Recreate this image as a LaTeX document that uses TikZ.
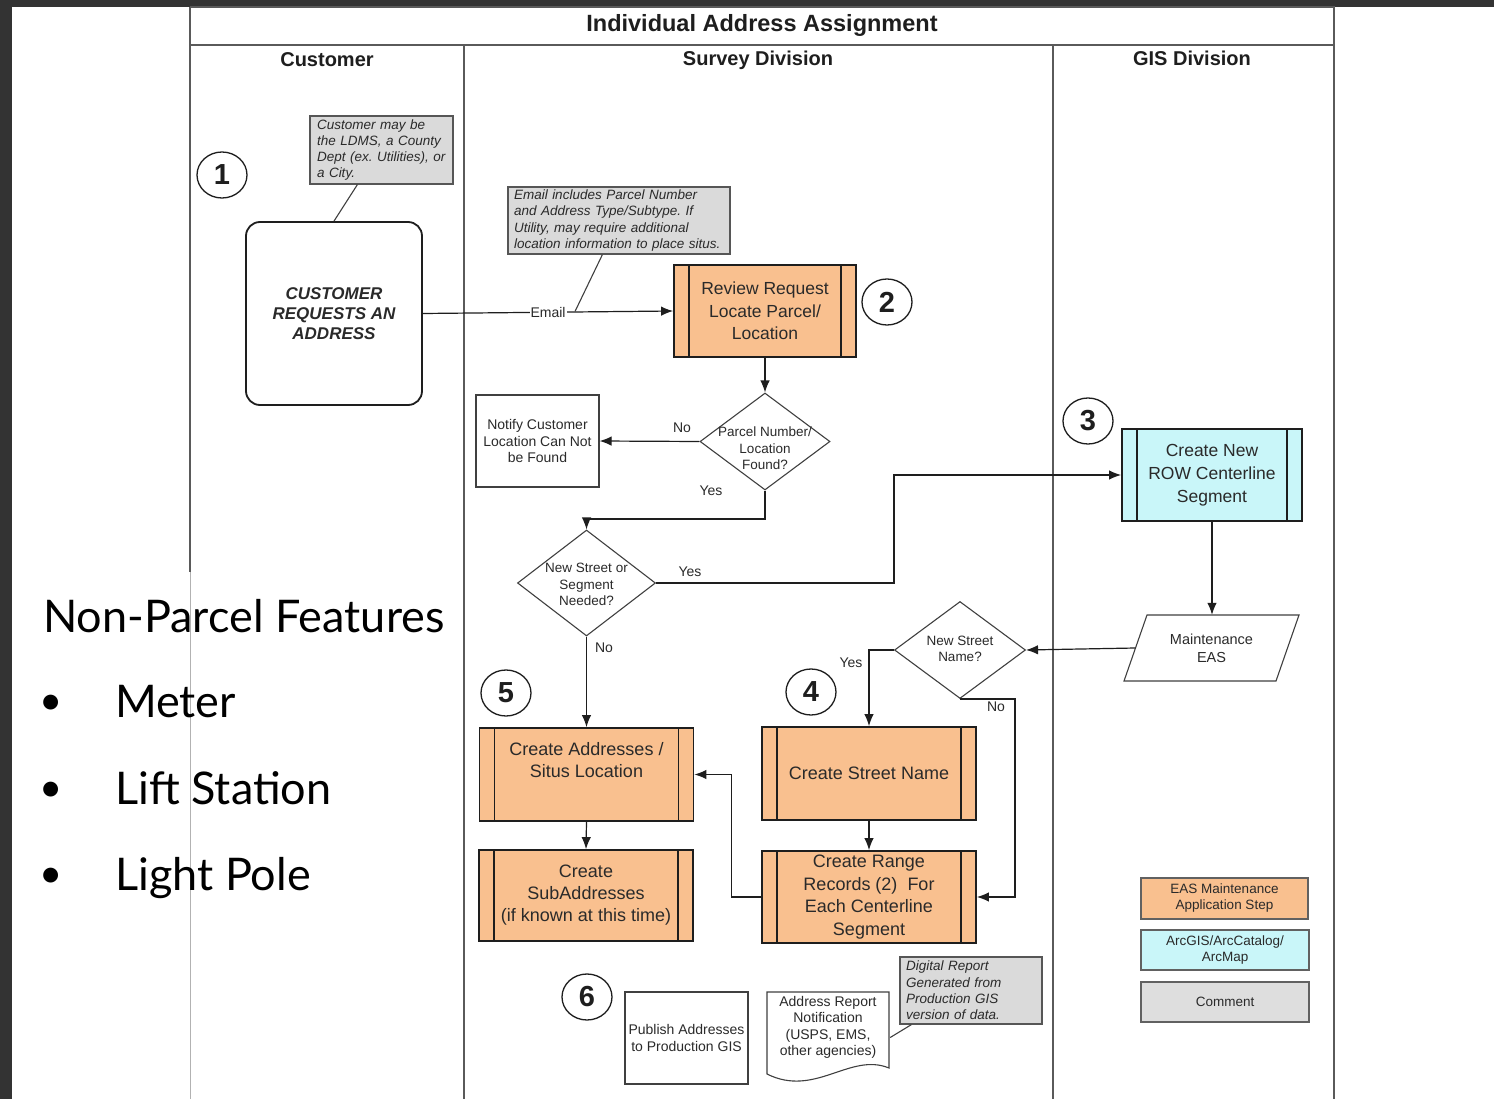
\documentclass[tikz,border=0pt]{standalone}
\usepackage{fontspec}
\setmainfont{Liberation Sans}
\newfontfamily\slidefont{Lato}
\usetikzlibrary{shapes.geometric,arrows.meta,calc}
\frenchspacing
\definecolor{bgdark}{HTML}{333333}
\definecolor{procorange}{HTML}{F9C08F}
\definecolor{gisblue}{HTML}{C9F6F9}
\definecolor{cmtgray}{HTML}{DADADA}
\definecolor{lanegray}{HTML}{5A5A5A}
\definecolor{inkc}{HTML}{1E1E1E}
\definecolor{txtc}{HTML}{2A2A2A}
\newcommand{\fsz}[2]{\fontsize{#1}{#2}\selectfont}
\tikzset{
  lane/.style={draw=lanegray, line width=1.3pt},
  lanefaint/.style={draw=black!30, line width=1pt},
  ttl/.style={font=\bfseries\fsz{23.5}{26}, text=inkc, inner sep=0pt},
  lanetitle/.style={font=\bfseries\fsz{20}{24}, text=inkc, inner sep=0pt},
  procbox/.style={rectangle, draw=inkc, line width=1.8pt, inner sep=0pt, align=center,
    font=\fsz{17.5}{22.5}, text=txtc,
    path picture={\draw[inkc, line width=1.5pt]
      ($(path picture bounding box.north west)+(15,0)$) -- ($(path picture bounding box.south west)+(15,0)$)
      ($(path picture bounding box.north east)+(-15,0)$) -- ($(path picture bounding box.south east)+(-15,0)$);}},
  custbox/.style={rectangle, rounded corners=14pt, draw=inkc, line width=1.8pt, inner sep=0pt,
    align=center, font=\bfseries\itshape\fsz{17}{20}, text=txtc},
  plainbox/.style={rectangle, draw=inkc!85, line width=1.2pt, inner sep=0pt, align=center,
    font=\fsz{14}{16.5}, text=txtc},
  cmt/.style={rectangle, draw=inkc!75, line width=1.2pt, fill=cmtgray, inner sep=0pt,
    align=left, font=\itshape\fsz{13.5}{16.3}, text=txtc},
  numc/.style={ellipse, draw=inkc, line width=1.3pt, minimum width=50, minimum height=46,
    inner sep=0pt, font=\bfseries\fsz{29}{30}, text=inkc},
  dia/.style={diamond, draw=inkc!85, line width=1.1pt, inner sep=0pt},
  diatext/.style={align=center, font=\fsz{13.5}{16.5}, text=txtc, inner sep=0pt},
  lbl/.style={font=\fsz{14}{16}, text=txtc, inner sep=1pt},
  legbox/.style={rectangle, draw=inkc!70, line width=1.3pt, inner sep=0pt, align=center,
    font=\fsz{13.5}{16}, text=txtc, minimum width=168, minimum height=40},
  arr/.style={draw=inkc, line width=1.2pt, -{Latex[length=12pt,width=9.5pt]}},
  ln/.style={draw=inkc!85, line width=1.1pt},
  slide/.style={font=\slidefont\fsz{45}{50}, text=black, inner sep=0pt, anchor=base west},
  bullet/.style={font=\slidefont\fsz{40}{44}, text=black, inner sep=0pt, anchor=base}
}
\begin{document}
\begin{tikzpicture}[x=1pt,y=-1pt]
\useasboundingbox (0,0) rectangle (1494,1099);
\fill[white] (0,0) rectangle (1494,1099);
\fill[bgdark] (0,0) rectangle (1494,7);
\fill[bgdark] (0,0) rectangle (12,1099);

% swimlanes
\draw[lane] (190,7) -- (1334,7) -- (1334,1099);
\draw[lane] (190,7) -- (190,572);
\draw[lanefaint] (190,572) -- (190,1099);
\draw[lane] (190,45) -- (1334,45);
\draw[lane] (464,45) -- (464,1099);
\draw[lane] (1053,45) -- (1053,1099);

\node[ttl] (title) at (762,25) {Individual Address Assignment};
\node[lanetitle] (lcust) at (327,60) {Customer};
\node[lanetitle] (lsurv) at (758,60) {Survey Division};
\node[lanetitle] (lgis) at (1192,58) {GIS Division};

% step numbers
\node[numc] (n1) at (222,175) {1};
\node[numc] (n2) at (887,302) {2};
\node[numc] (n3) at (1088,421) {3};
\node[numc] (n4) at (811,692) {4};
\node[numc] (n5) at (506,693) {5};
\node[numc] (n6) at (587,997) {6};

% comments
\node[cmt, text width=129, minimum width=143, minimum height=68] (cmt1) at (381.5,150)
  {Customer may be\\the LDMS, a County\\Dept (ex. Utilities), or\\a City.};
\node[cmt, text width=210, minimum width=222, minimum height=67] (cmt2) at (619,220.5)
  {Email includes Parcel Number\\and Address Type/Subtype. If\\Utility, may require additional\\location information to place situs.};
\node[cmt, text width=130, minimum width=142, minimum height=67] (digi) at (971,990.5)
  {Digital Report\\Generated from\\Production GIS\\version of data.};

% main shapes
\node[custbox, minimum width=176, minimum height=183] (cust) at (334,313.5) {CUSTOMER\\REQUESTS AN\\ADDRESS};
\node[procbox, fill=procorange, minimum width=182, minimum height=92] (review) at (765,311)
  {Review Request\\Locate Parcel/\\Location};
\node[dia, minimum width=130, minimum height=97] (d1) at (765,441.5) {};
\node[diatext] (d1t) at (765,448.5) {Parcel Number/\\Location\\Found?};
\node[plainbox, minimum width=123, minimum height=92] (notify) at (537.5,441)
  {Notify Customer\\Location Can Not\\be Found};
\node[dia, minimum width=138, minimum height=106] (d2) at (586.5,583) {};
\node[diatext] (d2t) at (586.5,584.5) {New Street or\\Segment\\Needed?};
\node[procbox, fill=gisblue, font=\fsz{17.5}{23}, minimum width=180, minimum height=92] (row) at (1212,475)
  {Create New\\ROW Centerline\\Segment};
\draw[draw=inkc!85, line width=1.1pt] (1147,615) -- (1299,615) -- (1276,681) -- (1124,681) -- cycle;
\node[align=center, font=\fsz{14.5}{18}, text=txtc, minimum width=152, minimum height=66, inner sep=0pt]
  (maint) at (1211.5,648) {Maintenance\\EAS};
\node[dia, minimum width=131, minimum height=97] (d3) at (960,650) {};
\node[diatext] (d3t) at (960,649) {New Street\\Name?};
\node[procbox, fill=procorange, font=\fsz{18}{22}, minimum width=214, minimum height=93] (street) at (869,773.5)
  {Create Street Name};
\node[procbox, fill=procorange, font=\fsz{18}{22.7}, minimum width=214, minimum height=92] (range) at (869,897)
  {Create Range\\Records (2)\ \ For\\Each Centerline\\Segment};
\node[procbox, fill=procorange, font=\fsz{18}{22}, minimum width=214, minimum height=93] (addr) at (586.5,774.5)
  {Create Addresses /\\Situs Location\\\strut};
\node[procbox, fill=procorange, font=\fsz{18}{22}, minimum width=214, minimum height=91] (sub) at (586,895.5)
  {Create\\SubAddresses\\(if known at this time)};
\node[plainbox, minimum width=123, minimum height=92] (publish) at (686.5,1038)
  {Publish Addresses\\to Production GIS};
\draw[draw=inkc!85, line width=1.1pt, fill=white] (767,992) -- (889,992) -- (889,1068)
  .. controls (850,1052) and (815,1098) .. (767,1074) -- cycle;
\node[align=center, font=\fsz{14}{16.5}, text=txtc, minimum width=122, minimum height=70, inner sep=0pt] (doc) at (828,1027.5)
  {Address Report\\Notification\\(USPS, EMS,\\other agencies)};

% legend
\node[legbox, fill=procorange, minimum width=167, minimum height=41] (leg1) at (1224.5,898.5) {EAS Maintenance\\Application Step};
\node[legbox, fill=gisblue] (leg2) at (1225,950) {ArcGIS/ArcCatalog/\\ArcMap};
\node[legbox, fill=cmtgray!90] (leg3) at (1225,1002) {Comment};

% connectors
\coordinate (emailpt) at (575,311.5);
\coordinate (j1) at (894,0);
\coordinate (j2) at (1015,0);
\draw[ln] ($(cmt1.south west)+(48,0)$) -- (cust.north);
\draw[arr] (cust.east) -- node[lbl, fill=white, pos=0.5] (emaillbl) {Email} (review.west);
\draw[ln] ($(cmt2.south west)+(95,0)$) -- (emailpt);
\draw[arr] (review.south) -- (d1.north);
\draw[arr] (d1.west) -- (notify.east);
\draw[arr] (d1.south) -- ++(0,28.5) -| (d2.north);
\draw[arr] (d2.east) -- (d2.east -| j1) |- (row.west);
\draw[arr] (d2.south) -- (addr.north);
\draw[arr] (row.south) -- (row.south |- maint.north);
\draw[arr] (maint.west) -- (d3.east);
\draw[arr] (d3.west) -| (street.north);
\draw[arr] (d3.south) -| (j2 |- range.east) -- (range.east);
\draw[arr] (street.south) -- (range.north);
\draw[arr] (range.west) -- ++(-30,0) |- (addr.east);
\draw[arr] (addr.south) -- (sub.north);
\draw[ln] ($(doc.east)+(1,10)$) -- ($(digi.south west)+(12,0)$);

% branch labels
\node[lbl] (no1) at (682,428) {No};
\node[lbl] (yes1) at (711,491) {Yes};
\node[lbl] (yes2) at (690,572) {Yes};
\node[lbl] (no2) at (604,648) {No};
\node[lbl] (yes3) at (851,663) {Yes};
\node[lbl] (no3) at (996,707) {No};

% slide text
\node[slide] (hd) at (43,632) {Non-Parcel Features};
\node[bullet] (b1) at (51,714) {•};
\node[bullet] (b2) at (51,801) {•};
\node[bullet] (b3) at (51,887) {•};
\node[slide] (i1) at (115,717) {Meter};
\node[slide] (i2) at (115,804) {Lift Station};
\node[slide] (i3) at (115,890) {Light Pole};
\end{tikzpicture}
\end{document}
